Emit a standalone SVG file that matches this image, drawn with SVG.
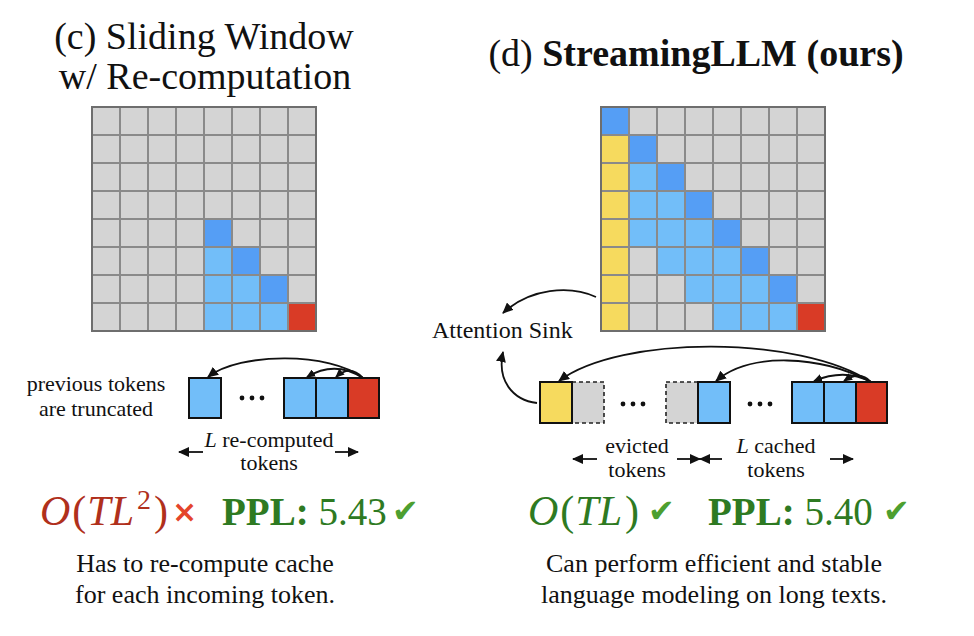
<svg xmlns="http://www.w3.org/2000/svg" width="974" height="636" viewBox="0 0 974 636" font-family="'Liberation Serif', 'Times New Roman', Times, serif">
<style>
.t{font-family:'Liberation Serif','Times New Roman',Times,serif;fill:#111}
.gbg{fill:#d4d4d4}
.gl{fill:none;stroke:#8a8a8a;stroke-width:2}
.go{fill:none;stroke:#6e6e6e;stroke-width:2}
.db{fill:#559ef5}
.lb{fill:#72bef9}
.rd{fill:#d93b26}
.yl{fill:#f6da5e}
.tk{stroke:#111;stroke-width:2}
.ds{fill:#d4d4d4;stroke:#222;stroke-width:1.6;stroke-dasharray:4 3}
.ar{fill:none;stroke:#111;stroke-width:1.8}
.red{fill:#b0301c}
.grn{fill:#2e7a22}
.chk{font-family:'DejaVu Sans',sans-serif;fill:#4d9f30}
.crs{font-family:'DejaVu Sans',sans-serif;font-weight:bold;fill:#e4442b}
</style>
<defs>
<marker id="ah" markerUnits="userSpaceOnUse" markerWidth="12" markerHeight="10" refX="10" refY="5" orient="auto"><path d="M0,0 L11,5 L0,10 z" fill="#111"/></marker>
<marker id="ahs" markerUnits="userSpaceOnUse" markerWidth="10" markerHeight="8" refX="8" refY="4" orient="auto"><path d="M0,0 L9,4 L0,8 z" fill="#111"/></marker>
</defs>

<g id="title-c">
<text class="t" x="204" y="49" font-size="38" text-anchor="middle">(c) Sliding Window</text>
<text class="t" x="205" y="89" font-size="38" text-anchor="middle">w/ Re-computation</text>
</g>
<g id="title-d">
<text class="t" x="696" y="66" font-size="38" text-anchor="middle">(d) <tspan font-weight="bold">StreamingLLM (ours)</tspan></text>
</g>

<g id="grid-c">
<rect class="gbg" x="92" y="107" width="224" height="224"/>
<rect class="db" x="204" y="219" width="28" height="28"/>
<rect class="lb" x="204" y="247" width="28" height="28"/>
<rect class="db" x="232" y="247" width="28" height="28"/>
<rect class="lb" x="204" y="275" width="28" height="28"/>
<rect class="lb" x="232" y="275" width="28" height="28"/>
<rect class="db" x="260" y="275" width="28" height="28"/>
<rect class="lb" x="204" y="303" width="28" height="28"/>
<rect class="lb" x="232" y="303" width="28" height="28"/>
<rect class="lb" x="260" y="303" width="28" height="28"/>
<rect class="rd" x="288" y="303" width="28" height="28"/>
<path class="gl" d="M120,107V331M148,107V331M176,107V331M204,107V331M232,107V331M260,107V331M288,107V331M92,135H316M92,163H316M92,191H316M92,219H316M92,247H316M92,275H316M92,303H316"/>
<rect class="go" x="92" y="107" width="224" height="224"/>
</g>

<g id="grid-d">
<rect class="gbg" x="601" y="107" width="224" height="224"/>
<rect class="db" x="601" y="107" width="28" height="28"/>
<rect class="yl" x="601" y="135" width="28" height="196"/>
<rect class="db" x="629" y="135" width="28" height="28"/>
<rect class="lb" x="629" y="163" width="28" height="28"/>
<rect class="db" x="657" y="163" width="28" height="28"/>
<rect class="lb" x="629" y="191" width="56" height="28"/>
<rect class="db" x="685" y="191" width="28" height="28"/>
<rect class="lb" x="629" y="219" width="84" height="28"/>
<rect class="db" x="713" y="219" width="28" height="28"/>
<rect class="lb" x="657" y="247" width="84" height="28"/>
<rect class="db" x="741" y="247" width="28" height="28"/>
<rect class="lb" x="685" y="275" width="84" height="28"/>
<rect class="db" x="769" y="275" width="28" height="28"/>
<rect class="lb" x="713" y="303" width="84" height="28"/>
<rect class="rd" x="797" y="303" width="28" height="28"/>
<path class="gl" d="M629,107V331M657,107V331M685,107V331M713,107V331M741,107V331M769,107V331M797,107V331M601,135H825M601,163H825M601,191H825M601,219H825M601,247H825M601,275H825M601,303H825"/>
<rect class="go" x="601" y="107" width="224" height="224"/>
</g>

<g id="tokens-c">
<rect class="lb tk" x="189" y="378" width="32" height="40"/>
<circle cx="242" cy="398" r="2.4" fill="#111"/><circle cx="252" cy="398" r="2.4" fill="#111"/><circle cx="262" cy="398" r="2.4" fill="#111"/>
<rect class="lb tk" x="284" y="378" width="32" height="40"/>
<rect class="lb tk" x="316" y="378" width="32" height="40"/>
<rect class="rd tk" x="348" y="378" width="31" height="40"/>
</g>

<g id="tokens-d">
<rect class="ds" x="572" y="382" width="32" height="41"/>
<rect class="ds" x="666" y="382" width="32" height="41"/>
<rect class="yl tk" x="540" y="382" width="32" height="41"/>
<circle cx="623" cy="404" r="2.4" fill="#111"/><circle cx="633" cy="404" r="2.4" fill="#111"/><circle cx="643" cy="404" r="2.4" fill="#111"/>
<rect class="lb tk" x="698" y="382" width="32" height="41"/>
<circle cx="750" cy="404" r="2.4" fill="#111"/><circle cx="760" cy="404" r="2.4" fill="#111"/><circle cx="770" cy="404" r="2.4" fill="#111"/>
<rect class="lb tk" x="792" y="382" width="32" height="41"/>
<rect class="lb tk" x="824" y="382" width="32" height="41"/>
<rect class="rd tk" x="856" y="382" width="31" height="41"/>
</g>

<g id="labels">
<text class="t" font-size="22" text-anchor="middle"><tspan x="96" y="391">previous tokens</tspan><tspan x="96" y="416">are truncated</tspan></text>
<text class="t" font-size="22" text-anchor="middle"><tspan x="269" y="447"><tspan font-style="italic">L</tspan> re-computed</tspan><tspan x="269" y="470">tokens</tspan></text>
<text class="t" font-size="24" x="432" y="338">Attention Sink</text>
<text class="t" font-size="22" text-anchor="middle"><tspan x="637" y="453">evicted</tspan><tspan x="637" y="477">tokens</tspan></text>
<text class="t" font-size="22" text-anchor="middle"><tspan x="776" y="453"><tspan font-style="italic">L</tspan> cached</tspan><tspan x="776" y="477">tokens</tspan></text>
</g>

<g id="connectors">
<path class="ar" d="M363,378 C330,352 240,352 208,377" marker-end="url(#ah)"/>
<path class="ar" d="M363,378 Q350,364 336,377" marker-end="url(#ahs)"/>
<path class="ar" d="M363,378 Q335,360 307,377" marker-end="url(#ahs)"/>
<path class="ar" d="M871,382 C800,335 620,335 559,381" marker-end="url(#ah)"/>
<path class="ar" d="M871,382 C820,355 750,352 716,381" marker-end="url(#ah)"/>
<path class="ar" d="M871,382 Q845,368 814,381" marker-end="url(#ahs)"/>
<path class="ar" d="M871,382 Q860,370 844,381" marker-end="url(#ahs)"/>
<path class="ar" d="M596,297 C570,285 530,288 503,313" marker-end="url(#ah)"/>
<path class="ar" d="M537,403 C512,400 497,380 503,352" marker-end="url(#ah)"/>
<path class="ar" d="M203,452 H179" marker-end="url(#ah)"/>
<path class="ar" d="M335,452 H358" marker-end="url(#ah)"/>
<path class="ar" d="M597,459 H573" marker-end="url(#ah)"/>
<path class="ar" d="M677,459 H700" marker-end="url(#ah)"/>
<path class="ar" d="M722,459 H700" marker-end="url(#ah)"/>
<path class="ar" d="M830,459 H853" marker-end="url(#ah)"/>
</g>

<g id="metrics-c">
<text class="t red" x="40" y="525" font-size="42"><tspan font-style="italic">O</tspan><tspan dx="2">(</tspan><tspan dx="1" font-style="italic">TL</tspan><tspan dx="3" font-size="28" dy="-16">2</tspan><tspan dx="3" dy="16">)</tspan></text>
<text class="crs" x="172" y="522" font-size="30">×</text>
<text class="t grn" x="222" y="525" font-size="39"><tspan font-weight="bold">PPL:</tspan> 5.43</text>
<text class="chk" x="392" y="522" font-size="32">✔</text>
</g>
<g id="metrics-d">
<text class="t grn" x="528" y="525" font-size="42"><tspan font-style="italic">O</tspan><tspan dx="2">(</tspan><tspan dx="1" font-style="italic">TL</tspan><tspan dx="3">)</tspan></text>
<text class="chk" x="648" y="522" font-size="32">✔</text>
<text class="t grn" x="708" y="525" font-size="39"><tspan font-weight="bold">PPL:</tspan> 5.40</text>
<text class="chk" x="883" y="522" font-size="32">✔</text>
</g>

<g id="desc-c">
<text class="t" font-size="26" text-anchor="middle"><tspan x="205" y="572">Has to re-compute cache</tspan><tspan x="205" y="603">for each incoming token.</tspan></text>
</g>
<g id="desc-d">
<text class="t" font-size="26" text-anchor="middle"><tspan x="714" y="572">Can perform efficient and stable</tspan><tspan x="714" y="603">language modeling on long texts.</tspan></text>
</g>
</svg>
